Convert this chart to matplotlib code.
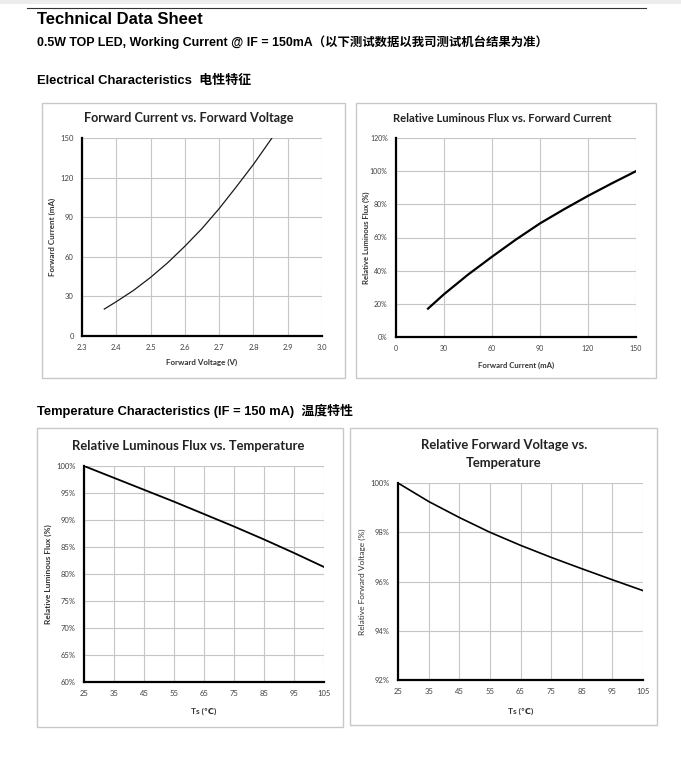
import matplotlib
matplotlib.use("Agg")
import matplotlib.pyplot as plt
from matplotlib.patches import Rectangle
from matplotlib.lines import Line2D
from matplotlib.ticker import FuncFormatter

# -- Curve values read from the data sheet
vf_volts = [2.365, 2.40, 2.45, 2.50, 2.55, 2.60, 2.65, 2.70, 2.75, 2.80, 2.854]
if_ma = [20.4, 26, 34.5, 44.4, 55.5, 68, 81.4, 96.5, 113, 130, 150]

flux_current = [20, 30, 45, 60, 75, 90, 105, 120, 135, 150]
flux_rel = [17.1, 25.8, 37.6, 48.4, 58.8, 68.5, 77.0, 85.1, 92.7, 100]

ts_c = [25, 35, 45, 55, 65, 75, 85, 95, 105]
flux_temp = [100, 97.8, 95.6, 93.4, 91.1, 88.8, 86.4, 83.9, 81.3]
vf_temp = [100, 99.25, 98.6, 98.0, 97.47, 96.98, 96.52, 96.07, 95.63]

W, H = 681, 765
fig = plt.figure(figsize=(W / 100, H / 100), dpi=100)

CHART_FONT = ['Lato', 'DejaVu Sans']
HEAD_FONT = ['Liberation Sans', 'Noto Sans CJK SC', 'DejaVu Sans']


def px_axes(left, top, right, bottom):
    return fig.add_axes([left / W, 1 - bottom / H, (right - left) / W, (bottom - top) / H])


def px_box(left, top, right, bottom, **kw):
    style = dict(fill=False, edgecolor='#c8c8c8', linewidth=1.0)
    style.update(kw)
    fig.patches.append(Rectangle((left / W, 1 - bottom / H), (right - left) / W, (bottom - top) / H,
                                 transform=fig.transFigure, **style))


def px_text(x, y, s, **kw):
    fig.text(x / W, 1 - y / H, s, **kw)


def style_axes(ax, tick_size):
    for side in ('top', 'right'):
        ax.spines[side].set_visible(False)
    for side in ('left', 'bottom'):
        ax.spines[side].set_linewidth(1.6)
        ax.spines[side].set_color('black')
    ax.grid(True, color='#c6c6c6', linewidth=0.8)
    ax.set_axisbelow(True)
    ax.tick_params(length=0, labelsize=tick_size, labelcolor='#404040', pad=6)
    for lab in ax.get_xticklabels() + ax.get_yticklabels():
        lab.set_fontfamily(CHART_FONT)


pct = FuncFormatter(lambda v, p: '%d%%' % round(v))

# -- Page headings
px_box(0, 0, W, 4, fill=True, facecolor='#ececec', edgecolor='none', linewidth=0)
fig.add_artist(Line2D([27 / W, 646 / W], [1 - 8 / H, 1 - 8 / H], color='#333333', linewidth=0.8))
px_text(37, 19, 'Technical Data Sheet', fontsize=12, fontweight='bold', family=HEAD_FONT, va='center')
px_text(37, 42, '0.5W TOP LED, Working Current @ IF = 150mA\uff08以下测试数据以我司测试机台结果为准\uff09',
        fontsize=8.9, fontweight='bold', family=HEAD_FONT, va='center')
px_text(37, 81, 'Electrical Characteristics  电性特征', fontsize=9.4, fontweight='bold', family=HEAD_FONT,
        va='center')
px_text(37, 411, 'Temperature Characteristics (IF = 150 mA)  温度特性', fontsize=9.3, fontweight='bold',
        family=HEAD_FONT, va='center')

# -- Chart frames
px_box(42, 103, 345, 378)
px_box(356, 103, 656, 378)
px_box(37, 428, 343, 727)
px_box(350, 428, 657, 725)

# -- Forward current vs forward voltage
ax1 = px_axes(82, 138, 322, 336)
ax1.plot(vf_volts, if_ma, color='#1a1a1a', linewidth=0.9)
ax1.set_xlim(2.3, 3.0)
ax1.set_ylim(0, 150)
ax1.set_xticks([2.3, 2.4, 2.5, 2.6, 2.7, 2.8, 2.9, 3.0])
ax1.set_yticks([0, 30, 60, 90, 120, 150])
style_axes(ax1, 5.5)
ax1.set_xlabel('Forward Voltage (V)', fontsize=5.8, fontweight='bold', family=CHART_FONT, color='#333333')
ax1.set_ylabel('Forward Current (mA)', fontsize=5.8, fontweight='bold', family=CHART_FONT, color='#333333')
ax1.xaxis.set_label_coords(0.5, -0.115)
ax1.yaxis.set_label_coords(-0.108, 0.5)
px_text(189, 118, 'Forward Current vs. Forward Voltage', fontsize=9.1, fontweight='bold', family=CHART_FONT,
        ha='center', va='center', color='#222222')

# -- Relative luminous flux vs forward current
ax2 = px_axes(396, 138, 636, 337)
ax2.plot(flux_current, flux_rel, color='black', linewidth=1.6)
ax2.set_xlim(0, 150)
ax2.set_ylim(0, 120)
ax2.set_xticks([0, 30, 60, 90, 120, 150])
ax2.set_yticks([0, 20, 40, 60, 80, 100, 120])
ax2.yaxis.set_major_formatter(pct)
style_axes(ax2, 5.0)
ax2.set_xlabel('Forward Current (mA)', fontsize=5.6, fontweight='bold', family=CHART_FONT, color='#333333')
ax2.set_ylabel('Relative Luminous Flux (%)', fontsize=5.6, fontweight='bold', family=CHART_FONT, color='#333333')
ax2.xaxis.set_label_coords(0.5, -0.122)
ax2.yaxis.set_label_coords(-0.108, 0.5)
px_text(502, 118, 'Relative Luminous Flux vs. Forward Current', fontsize=8.1, fontweight='bold', family=CHART_FONT,
        ha='center', va='center', color='#222222')

# -- Relative luminous flux vs temperature
ax3 = px_axes(84, 466, 324, 682)
ax3.plot(ts_c, flux_temp, color='black', linewidth=1.3)
ax3.set_xlim(25, 105)
ax3.set_ylim(60, 100)
ax3.set_xticks(ts_c)
ax3.set_yticks([60, 65, 70, 75, 80, 85, 90, 95, 100])
ax3.yaxis.set_major_formatter(pct)
style_axes(ax3, 5.5)
ax3.set_xlabel('Ts (\u2103)', fontsize=6, fontweight='bold', family=CHART_FONT, color='#333333')
ax3.set_ylabel('Relative Luminous Flux (%)', fontsize=6, fontweight='bold', family=CHART_FONT, color='#333333')
ax3.xaxis.set_label_coords(0.5, -0.12)
ax3.yaxis.set_label_coords(-0.133, 0.5)
px_text(188, 446, 'Relative Luminous Flux vs. Temperature', fontsize=9.4, fontweight='bold', family=CHART_FONT,
        ha='center', va='center', color='#222222')

# -- Relative forward voltage vs temperature
ax4 = px_axes(398, 483, 643, 680)
ax4.plot(ts_c, vf_temp, color='black', linewidth=1.2)
ax4.set_xlim(25, 105)
ax4.set_ylim(92, 100)
ax4.set_xticks(ts_c)
ax4.set_yticks([92, 94, 96, 98, 100])
ax4.yaxis.set_major_formatter(pct)
style_axes(ax4, 5.5)
ax4.set_xlabel('Ts (\u2103)', fontsize=6, fontweight='bold', family=CHART_FONT, color='#333333')
ax4.set_ylabel('Relative Forward Voltage (%)', fontsize=6, family=CHART_FONT, color='#333333')
ax4.xaxis.set_label_coords(0.5, -0.142)
ax4.yaxis.set_label_coords(-0.13, 0.5)
px_text(504, 454, 'Relative Forward Voltage vs.\nTemperature', fontsize=9.4, fontweight='bold', family=CHART_FONT,
        ha='center', va='center', color='#222222', linespacing=1.55)

fig.savefig('out.png', dpi=100)
